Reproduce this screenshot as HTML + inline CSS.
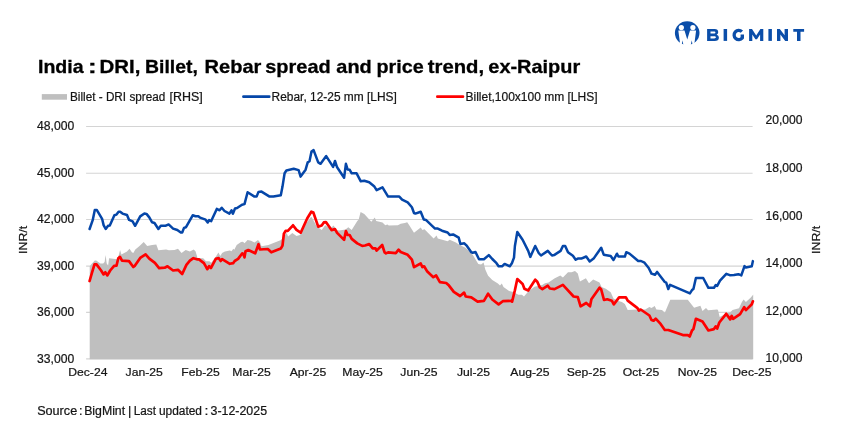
<!DOCTYPE html>
<html><head><meta charset="utf-8"><title>India : DRI, Billet, Rebar spread and price trend, ex-Raipur</title>
<style>html,body{margin:0;padding:0;background:#fff;}body{width:858px;height:432px;overflow:hidden;font-family:"Liberation Sans",sans-serif;}svg{display:block;}text{font-family:"Liberation Sans",sans-serif;fill:#151515;stroke:#151515;stroke-width:0.22px;}</style></head><body>
<svg style="will-change:transform" width="858" height="432" viewBox="0 0 858 432">
<rect width="858" height="432" fill="#ffffff"/>
<line x1="86.1" x2="752.6" y1="126.5" y2="126.5" stroke="#d4d4d4" stroke-width="1.1"/>
<line x1="86.1" x2="752.6" y1="173.3" y2="173.3" stroke="#d4d4d4" stroke-width="1.1"/>
<line x1="86.1" x2="752.6" y1="219.5" y2="219.5" stroke="#d4d4d4" stroke-width="1.1"/>
<line x1="86.1" x2="752.6" y1="266.1" y2="266.1" stroke="#d4d4d4" stroke-width="1.1"/>
<line x1="86.1" x2="752.6" y1="312.4" y2="312.4" stroke="#d4d4d4" stroke-width="1.1"/>
<line x1="86.1" x2="752.6" y1="358.9" y2="358.9" stroke="#d4d4d4" stroke-width="1.1"/>
<polygon fill="#bfbfbf" points="89.7,359.3 89.7,266.3 91.3,264.2 94.8,260.4 96.2,260.4 100.4,263.5 103.2,263.5 104.6,262.1 105.6,255.1 106.7,263.5 108.1,265.6 109.1,258.3 117.2,259.3 118.8,255.1 120.1,250.0 121.4,254.4 127.0,251.6 129.5,248.8 131.9,252.3 133.3,253.0 135.3,249.5 139.5,246.0 143.7,242.1 147.2,246.0 152.1,244.9 156.3,244.6 158.4,250.2 166.1,249.5 168.9,250.2 174.5,249.9 178.0,248.8 181.5,253.0 185.7,249.9 189.9,251.6 193.7,249.6 195.5,251.2 196.9,255.7 197.6,258.2 203.2,258.3 206.0,261.3 209.5,261.3 211.2,262.7 215.8,256.8 218.4,252.4 220.3,256.1 222.1,252.9 224.9,251.5 229.8,250.5 231.5,251.2 233.3,248.7 234.3,249.8 236.7,244.9 241.0,242.1 243.0,241.7 244.5,243.3 247.6,240.0 251.0,240.7 254.5,242.5 258.0,240.0 260.1,242.5 261.5,246.2 268.5,244.9 274.1,242.8 281.1,240.0 284.0,236.0 286.7,233.0 288.1,236.5 292.3,233.0 296.5,236.0 300.0,235.0 306.3,223.2 310.5,217.6 311.6,216.9 316.8,226.6 321.7,230.1 325.2,225.2 330.1,228.7 333.6,225.5 336.4,230.1 339.2,230.5 345.5,229.4 348.3,227.3 351.7,230.1 357.3,221.0 358.7,219.6 360.6,211.9 364.3,214.0 371.3,221.7 374.8,217.5 376.2,221.0 382.5,222.4 385.3,225.2 387.4,224.5 388.8,225.5 397.9,225.2 400.7,223.8 404.9,223.0 407.2,222.3 409.1,225.1 414.0,232.8 420.7,227.4 422.4,230.0 424.5,229.3 433.6,238.6 436.6,235.6 437.8,238.6 447.6,241.2 449.7,239.8 455.9,242.6 460.1,245.3 465.0,247.4 467.1,249.2 472.7,254.8 478.3,263.9 481.1,264.6 483.6,262.5 485.3,269.5 488.1,275.8 492.3,280.0 497.9,283.5 500.0,285.6 501.8,283.5 503.5,287.0 509.1,290.9 513.3,291.9 518.4,294.7 521.9,294.7 524.0,296.5 528.2,291.6 534.5,286.7 542.2,285.0 545.0,283.2 548.5,282.5 554.8,278.3 560.3,275.5 562.9,277.6 568.0,272.3 571.5,272.3 575.0,271.1 577.8,273.4 579.9,281.5 585.9,278.3 589.0,283.2 593.2,279.4 599.5,282.5 601.6,287.1 605.8,288.8 610.7,292.3 613.5,298.6 617.7,300.7 621.9,302.1 624.9,303.9 627.7,309.9 637.5,309.5 645.2,309.5 649.4,307.1 651.5,308.1 654.7,306.0 656.4,309.5 662.0,309.9 664.8,312.7 670.3,299.7 687.8,299.7 694.1,307.7 700.4,305.7 702.5,310.9 706.0,308.1 708.1,310.2 717.2,309.5 718.0,310.1 719.7,317.1 726.3,313.5 730.2,312.4 732.5,310.1 739.0,308.3 741.9,301.9 743.6,299.6 745.9,301.9 750.6,297.8 752.9,294.9 753.2,294.5 753.2,359.3"/>
<polyline fill="none" stroke="#0546a8" stroke-width="2.5" stroke-linejoin="round" stroke-linecap="round" points="89.6,229.0 92.7,220.2 94.8,210.1 96.9,210.1 102.1,218.8 103.6,225.1 105.7,229.0 108.1,225.8 109.8,225.5 114.4,215.3 116.5,214.6 118.6,211.8 120.2,211.8 122.5,213.6 127.0,215.0 129.1,219.9 132.6,221.3 135.1,225.8 140.2,216.4 144.4,213.5 146.5,213.9 149.3,217.4 152.1,222.3 154.5,223.0 158.4,229.0 160.8,225.8 165.4,225.8 168.6,224.4 173.1,228.6 177.3,230.0 180.8,232.5 182.2,232.5 184.0,227.9 186.0,227.2 192.7,215.3 195.5,216.3 198.3,216.3 200.0,217.6 205.6,219.7 207.7,222.5 209.1,220.1 211.2,221.1 216.8,208.9 219.6,210.3 221.7,207.8 224.5,211.0 229.4,213.7 231.5,210.3 232.9,213.7 235.0,208.5 237.1,208.0 242.0,204.7 244.5,204.1 247.6,192.2 254.5,196.6 256.6,196.6 258.5,191.9 261.5,191.6 269.2,196.4 273.4,196.6 280.8,195.2 282.5,186.6 284.6,173.3 286.4,170.5 293.7,168.7 298.6,170.1 300.6,176.6 305.6,169.7 307.7,162.4 309.5,161.3 311.5,151.5 313.6,150.1 318.2,162.4 320.6,163.8 326.2,156.1 333.1,166.9 335.0,161.0 337.1,167.3 344.1,177.8 345.9,163.8 347.6,169.4 349.7,169.8 351.7,173.3 356.6,173.3 360.8,181.3 364.3,180.8 369.2,182.2 374.1,186.2 376.6,190.1 382.5,187.3 388.1,196.6 399.3,196.6 402.1,199.6 407.7,202.4 411.9,207.3 414.0,213.0 415.4,213.6 420.7,211.8 423.8,219.5 425.9,219.9 435.0,228.6 437.8,228.6 442.0,230.7 447.6,232.5 449.7,234.9 453.1,234.4 458.7,237.7 460.4,244.0 464.3,243.3 466.4,245.3 471.3,252.3 472.7,252.7 475.5,252.0 479.0,259.3 483.9,259.3 488.8,255.1 492.3,259.0 496.5,263.2 498.6,266.3 502.1,266.3 504.6,263.9 509.8,266.3 511.9,263.2 514.0,257.6 514.9,246.0 517.3,232.0 522.6,239.7 528.2,250.9 530.3,256.9 535.2,246.0 538.7,253.0 541.0,255.5 547.8,250.9 552.0,255.5 554.1,255.1 560.6,250.9 562.9,246.0 565.2,246.0 568.0,252.3 572.9,255.8 575.7,259.7 577.8,258.6 581.3,258.6 586.2,256.5 589.7,261.4 593.6,258.6 601.2,247.7 603.7,254.7 610.7,256.0 613.5,260.0 617.0,253.7 618.4,256.5 624.9,256.5 626.3,252.2 629.5,253.6 638.2,261.0 641.0,261.0 644.5,262.7 648.7,268.0 651.5,273.6 655.0,274.7 657.1,271.9 664.8,282.0 666.2,282.7 668.3,289.0 670.1,284.8 689.9,293.4 692.0,290.1 693.4,289.0 695.9,278.0 703.2,278.0 708.4,287.8 714.0,287.8 715.8,285.0 717.2,285.9 720.0,280.6 726.3,273.8 729.8,275.2 734.0,275.0 738.4,274.2 741.3,275.4 744.5,266.1 745.9,267.5 751.8,266.3 752.9,261.1"/>
<polyline fill="none" stroke="#fe0000" stroke-width="2.7" stroke-linejoin="round" stroke-linecap="round" points="89.6,281.0 92.0,272.6 94.5,264.4 96.5,264.4 101.1,270.5 103.6,274.4 105.3,272.3 107.4,275.4 110.2,270.5 114.1,265.8 116.5,265.6 118.3,258.3 120.0,256.9 122.0,260.7 129.0,261.1 133.3,267.0 135.0,265.6 140.2,257.9 145.6,254.4 149.3,258.6 154.9,262.8 159.1,268.1 164.7,267.7 167.5,266.3 173.1,270.5 178.0,269.8 182.2,274.0 186.4,264.9 189.9,260.7 193.4,258.2 196.9,259.3 199.0,259.4 203.9,263.1 206.2,267.2 207.4,269.2 209.1,266.2 210.9,268.0 215.8,258.9 218.6,258.0 220.7,261.0 222.1,259.2 229.8,263.8 233.3,263.1 234.7,261.0 238.1,258.9 242.3,253.3 243.4,254.0 244.5,257.4 245.5,251.2 248.3,250.0 255.2,253.3 258.5,244.2 259.9,249.5 267.8,249.0 271.3,252.3 280.8,248.6 282.5,245.6 283.9,233.7 285.6,230.9 287.8,230.9 293.0,225.3 296.5,229.9 300.7,232.7 307.3,218.2 311.3,211.7 313.4,212.6 318.2,226.6 321.7,225.5 323.8,222.4 325.9,222.1 331.5,230.1 335.0,229.1 337.1,232.9 344.1,239.9 345.9,231.0 347.6,235.0 349.7,235.0 351.7,238.9 357.3,243.4 362.2,245.9 365.0,245.5 369.2,244.1 372.7,248.3 375.5,248.3 376.6,250.6 382.2,245.0 384.6,252.4 386.0,253.4 388.1,252.4 395.8,253.1 398.6,249.7 400.7,252.0 407.7,254.8 411.9,259.7 414.0,267.1 420.7,263.5 422.4,267.1 424.1,266.3 427.3,271.6 433.3,277.2 436.1,275.5 439.9,282.1 446.2,283.0 449.0,285.6 453.8,291.9 460.1,296.0 464.1,292.6 465.7,296.5 471.3,297.4 477.6,301.6 483.9,300.9 488.1,293.7 492.3,299.5 498.6,304.4 502.8,301.2 511.2,300.9 512.1,301.6 514.9,290.2 517.3,279.0 522.6,283.9 524.4,288.8 528.2,290.5 535.2,279.7 537.3,281.8 539.8,287.4 542.4,289.1 547.8,285.7 549.9,288.5 554.5,289.1 562.9,284.9 565.2,287.4 573.6,296.5 577.8,297.2 580.6,306.3 586.2,303.0 590.0,306.3 591.4,299.3 599.5,287.7 601.2,289.5 604.0,300.0 607.2,299.3 611.8,300.7 613.8,304.4 619.1,297.4 625.9,297.3 627.7,300.7 637.5,308.1 638.9,310.5 640.7,309.5 649.4,315.5 651.5,320.0 653.6,320.7 655.7,318.6 660.6,323.9 664.8,330.0 668.3,330.0 682.9,335.1 687.8,335.1 689.7,336.5 692.0,330.5 693.4,329.1 695.9,318.8 702.5,321.6 708.4,330.5 714.0,329.1 715.8,326.3 717.2,328.6 719.3,322.5 726.2,313.8 730.2,319.4 731.7,315.9 733.1,318.8 740.1,314.1 744.2,307.1 745.9,310.1 751.8,304.2 752.9,301.3"/>
<text x="37.0" y="130.40" font-size="12.3" textLength="37.2" lengthAdjust="spacingAndGlyphs">48,000</text>
<text x="37.0" y="177.15" font-size="12.3" textLength="37.2" lengthAdjust="spacingAndGlyphs">45,000</text>
<text x="37.0" y="223.35" font-size="12.3" textLength="37.2" lengthAdjust="spacingAndGlyphs">42,000</text>
<text x="37.0" y="269.95" font-size="12.3" textLength="37.2" lengthAdjust="spacingAndGlyphs">39,000</text>
<text x="37.0" y="316.25" font-size="12.3" textLength="37.2" lengthAdjust="spacingAndGlyphs">36,000</text>
<text x="37.0" y="362.70" font-size="12.3" textLength="37.2" lengthAdjust="spacingAndGlyphs">33,000</text>
<text x="765.5" y="124.25" font-size="12.3" textLength="37.0" lengthAdjust="spacingAndGlyphs">20,000</text>
<text x="765.5" y="172.05" font-size="12.3" textLength="37.0" lengthAdjust="spacingAndGlyphs">18,000</text>
<text x="765.5" y="219.55" font-size="12.3" textLength="37.0" lengthAdjust="spacingAndGlyphs">16,000</text>
<text x="765.5" y="267.15" font-size="12.3" textLength="37.0" lengthAdjust="spacingAndGlyphs">14,000</text>
<text x="765.5" y="314.95" font-size="12.3" textLength="37.0" lengthAdjust="spacingAndGlyphs">12,000</text>
<text x="765.5" y="362.35" font-size="12.3" textLength="37.0" lengthAdjust="spacingAndGlyphs">10,000</text>
<text x="68.25" y="376.25" font-size="11.7" textLength="39.20" lengthAdjust="spacingAndGlyphs">Dec-24</text>
<text x="125.63" y="376.25" font-size="11.7" textLength="37.23" lengthAdjust="spacingAndGlyphs">Jan-25</text>
<text x="181.39" y="376.25" font-size="11.7" textLength="38.51" lengthAdjust="spacingAndGlyphs">Feb-25</text>
<text x="232.29" y="376.25" font-size="11.7" textLength="38.51" lengthAdjust="spacingAndGlyphs">Mar-25</text>
<text x="289.68" y="376.25" font-size="11.7" textLength="36.54" lengthAdjust="spacingAndGlyphs">Apr-25</text>
<text x="342.26" y="376.25" font-size="11.7" textLength="40.58" lengthAdjust="spacingAndGlyphs">May-25</text>
<text x="400.33" y="376.25" font-size="11.7" textLength="37.23" lengthAdjust="spacingAndGlyphs">Jun-25</text>
<text x="457.00" y="376.25" font-size="11.7" textLength="33.10" lengthAdjust="spacingAndGlyphs">Jul-25</text>
<text x="510.35" y="376.25" font-size="11.7" textLength="39.20" lengthAdjust="spacingAndGlyphs">Aug-25</text>
<text x="566.75" y="376.25" font-size="11.7" textLength="39.20" lengthAdjust="spacingAndGlyphs">Sep-25</text>
<text x="622.68" y="376.25" font-size="11.7" textLength="36.54" lengthAdjust="spacingAndGlyphs">Oct-25</text>
<text x="677.75" y="376.25" font-size="11.7" textLength="39.20" lengthAdjust="spacingAndGlyphs">Nov-25</text>
<text x="732.35" y="376.25" font-size="11.7" textLength="39.20" lengthAdjust="spacingAndGlyphs">Dec-25</text>
<text transform="translate(27.35,253.9) rotate(-90)" font-size="11.6" textLength="28.0" lengthAdjust="spacingAndGlyphs">INR/t</text>
<text transform="translate(819.95,253.9) rotate(-90)" font-size="11.6" textLength="28.0" lengthAdjust="spacingAndGlyphs">INR/t</text>
<text x="37.99" y="72.5" font-size="19.0" font-weight="bold" style="fill:#000;stroke:#000;stroke-width:0.3px" textLength="45.64" lengthAdjust="spacingAndGlyphs">India</text>
<text x="87.92" y="72.5" font-size="19.0" font-weight="bold" style="fill:#000;stroke:#000;stroke-width:0.3px" textLength="8.65" lengthAdjust="spacingAndGlyphs">:</text>
<text x="99.52" y="72.5" font-size="19.0" font-weight="bold" style="fill:#000;stroke:#000;stroke-width:0.3px" textLength="40.83" lengthAdjust="spacingAndGlyphs">DRI,</text>
<text x="145.09" y="72.5" font-size="19.0" font-weight="bold" style="fill:#000;stroke:#000;stroke-width:0.3px" textLength="52.81" lengthAdjust="spacingAndGlyphs">Billet,</text>
<text x="204.56" y="72.5" font-size="19.0" font-weight="bold" style="fill:#000;stroke:#000;stroke-width:0.3px" textLength="56.78" lengthAdjust="spacingAndGlyphs">Rebar</text>
<text x="265.27" y="72.5" font-size="19.0" font-weight="bold" style="fill:#000;stroke:#000;stroke-width:0.3px" textLength="65.42" lengthAdjust="spacingAndGlyphs">spread</text>
<text x="336.37" y="72.5" font-size="19.0" font-weight="bold" style="fill:#000;stroke:#000;stroke-width:0.3px" textLength="35.44" lengthAdjust="spacingAndGlyphs">and</text>
<text x="376.51" y="72.5" font-size="19.0" font-weight="bold" style="fill:#000;stroke:#000;stroke-width:0.3px" textLength="47.14" lengthAdjust="spacingAndGlyphs">price</text>
<text x="427.79" y="72.5" font-size="19.0" font-weight="bold" style="fill:#000;stroke:#000;stroke-width:0.3px" textLength="56.27" lengthAdjust="spacingAndGlyphs">trend,</text>
<text x="488.31" y="72.5" font-size="19.0" font-weight="bold" style="fill:#000;stroke:#000;stroke-width:0.3px" textLength="91.90" lengthAdjust="spacingAndGlyphs">ex-Raipur</text>
<rect x="41.8" y="94.1" width="25.2" height="5.6" fill="#bfbfbf"/>
<text x="70.0" y="100.75" font-size="12.3" textLength="95.3" lengthAdjust="spacingAndGlyphs">Billet - DRI spread</text>
<text x="169.6" y="100.75" font-size="12.3" textLength="33.2" lengthAdjust="spacingAndGlyphs">[RHS]</text>
<line x1="243.4" x2="269.3" y1="96.65" y2="96.65" stroke="#0546a8" stroke-width="2.6" stroke-linecap="round"/>
<text x="271.6" y="100.75" font-size="12.3" textLength="125.3" lengthAdjust="spacingAndGlyphs">Rebar, 12-25 mm [LHS]</text>
<line x1="437.3" x2="463.0" y1="96.65" y2="96.65" stroke="#fe0000" stroke-width="2.6" stroke-linecap="round"/>
<text x="465.5" y="100.75" font-size="12.3" textLength="132.0" lengthAdjust="spacingAndGlyphs">Billet,100x100 mm [LHS]</text>
<text x="37.17" y="414.6" font-size="12.3" textLength="40.00" lengthAdjust="spacingAndGlyphs">Source</text>
<text x="78.98" y="414.6" font-size="12.3" textLength="3.49" lengthAdjust="spacingAndGlyphs">:</text>
<text x="84.18" y="414.6" font-size="12.3" textLength="40.94" lengthAdjust="spacingAndGlyphs">BigMint</text>
<text x="128.02" y="414.6" font-size="12.3" textLength="3.27" lengthAdjust="spacingAndGlyphs">|</text>
<text x="133.75" y="414.6" font-size="12.3" textLength="22.30" lengthAdjust="spacingAndGlyphs">Last</text>
<text x="158.89" y="414.6" font-size="12.3" textLength="43.10" lengthAdjust="spacingAndGlyphs">updated</text>
<text x="204.45" y="414.6" font-size="12.3" textLength="3.90" lengthAdjust="spacingAndGlyphs">:</text>
<text x="210.58" y="414.6" font-size="12.3" textLength="56.47" lengthAdjust="spacingAndGlyphs">3-12-2025</text>
<g id="logo">
<defs><clipPath id="lc"><ellipse cx="687.2" cy="33.05" rx="12.3" ry="11.9"/></clipPath></defs>
<ellipse cx="687.2" cy="33.05" rx="12.3" ry="11.9" fill="#0b4ea9"/>
<g fill="#fff">
<circle cx="681.35" cy="27.6" r="2.6"/><circle cx="692.9" cy="27.6" r="2.6"/>
<polygon points="678.3,30.5 684.5,30.5 687.25,39.6 690,30.5 696.1,30.5 694.1,46 680.4,46"/>
</g>
<g fill="#0b4ea9" clip-path="url(#lc)"><polygon points="682.5,40.2 681.5,46 683.6,46"/><polygon points="691.7,40.2 690.6,46 692.8,46"/></g>
<g fill="#0b4ea9">
<path fill-rule="evenodd" d="M707.1,29 H714.6 C717,29 718.2,30.3 718.2,32.1 C718.2,33.4 717.6,34.3 716.6,34.7 C718,35.1 718.9,36.2 718.9,37.7 C718.9,39.8 717.3,40.9 714.7,40.9 H707.1 Z M710.5,31.5 V33.6 H713.9 C714.9,33.6 715.4,33.2 715.4,32.55 C715.4,31.9 714.9,31.5 713.9,31.5 Z M710.5,36.2 V38.4 H714.2 C715.3,38.4 715.9,38 715.9,37.3 C715.9,36.6 715.3,36.2 714.2,36.2 Z"/>
<rect x="723.6" y="29" width="3.5" height="11.9"/>
<path fill="none" stroke="#0b4ea9" stroke-width="3.3" d="M741.9,31.6 A4.6,4.7 0 1 0 742.3,38.0"/>
<rect x="740.6" y="34.5" width="3.4" height="4.3"/>
<polygon points="749.1,40.9 749.1,29 752,29 756.2,35.6 760.4,29 763.3,29 763.3,40.9 760.1,40.9 760.1,34.4 757,39.2 755.4,39.2 752.3,34.4 752.3,40.9"/>
<rect x="768.4" y="29" width="3.5" height="11.9"/>
<polygon points="777,40.9 777,29 779.8,29 784.6,35.3 784.6,29 788,29 788,40.9 785.2,40.9 780.4,34.6 780.4,40.9"/>
<polygon points="793.3,29 804.1,29 804.1,31.8 800.5,31.8 800.5,40.9 797,40.9 797,31.8 793.3,31.8"/>
</g>
</g>
</g>
</svg></body></html>
